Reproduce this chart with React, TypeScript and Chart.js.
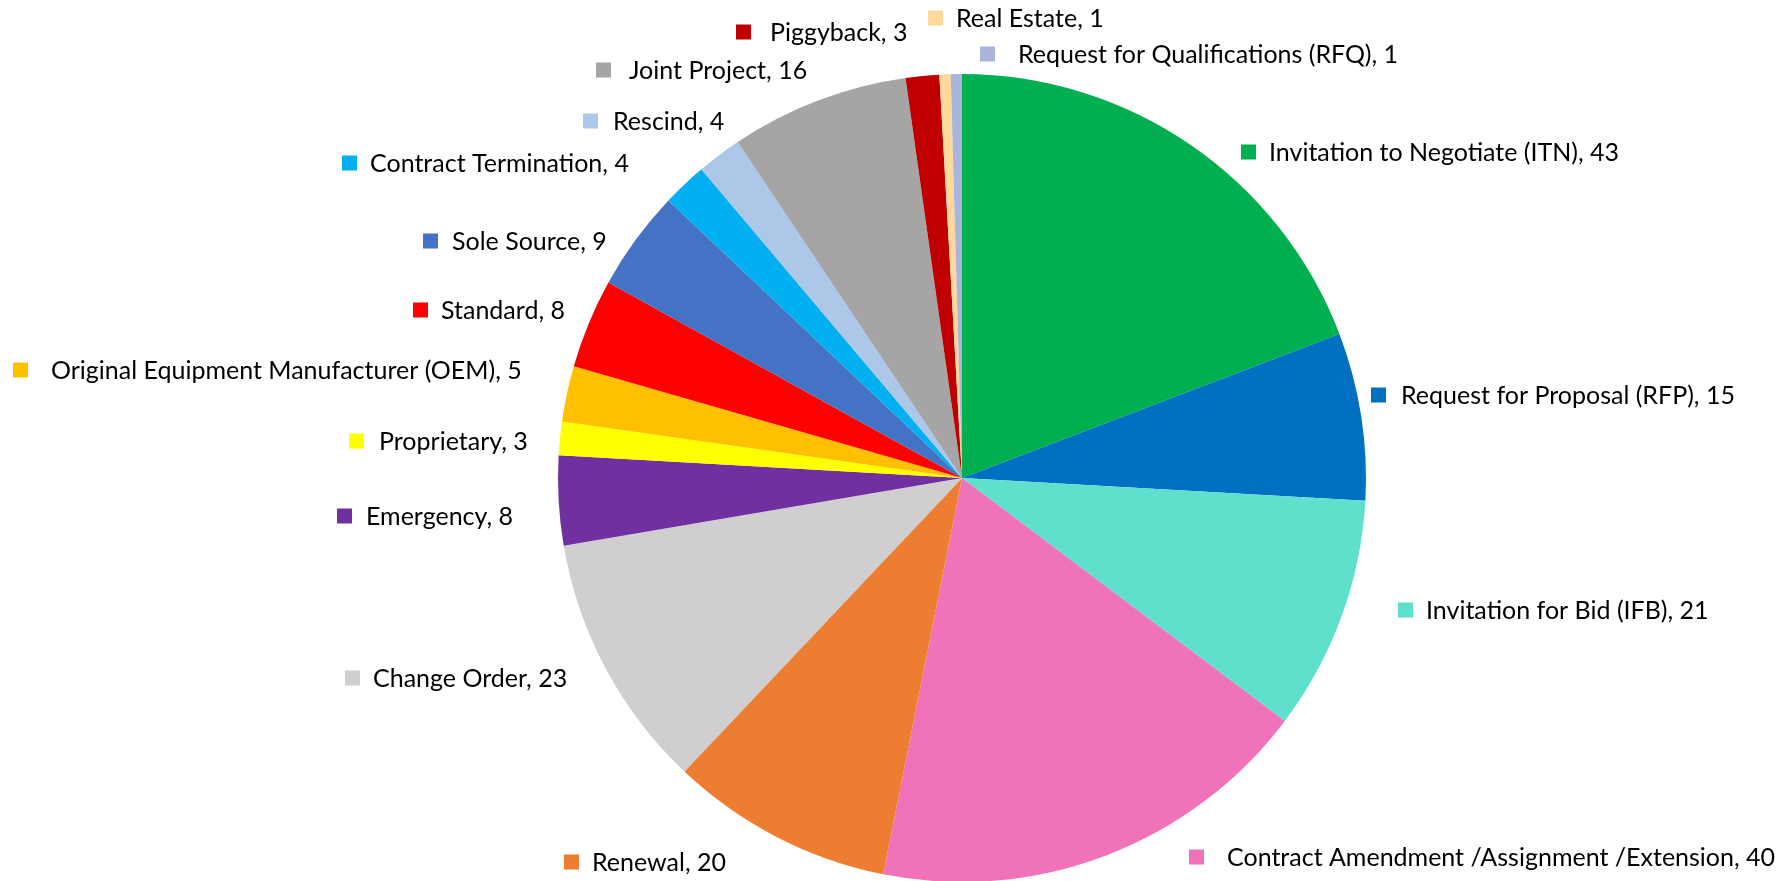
import React, { useEffect, useRef } from "react";
import { Chart, registerables } from "chart.js";

Chart.register(...registerables);

const categories = [
  "Invitation to Negotiate (ITN)",
  "Request for Proposal (RFP)",
  "Invitation for Bid (IFB)",
  "Contract Amendment /Assignment /Extension",
  "Renewal",
  "Change Order",
  "Emergency",
  "Proprietary",
  "Original Equipment Manufacturer (OEM)",
  "Standard",
  "Sole Source",
  "Contract Termination",
  "Rescind",
  "Joint Project",
  "Piggyback",
  "Real Estate",
  "Request for Qualifications (RFQ)",
];

const counts = [43, 15, 21, 40, 20, 23, 8, 3, 5, 8, 9, 4, 4, 16, 3, 1, 1];

const sliceColors = [
  "#00B050",
  "#0070C0",
  "#5FE0CD",
  "#F072B9",
  "#ED7D31",
  "#D0CECE",
  "#7030A0",
  "#FFFF00",
  "#FFC000",
  "#FF0000",
  "#4472C4",
  "#00B0F0",
  "#ADC7E8",
  "#A5A5A5",
  "#C00000",
  "#FFD89C",
  "#A9B6DC",
];

// label placement, offsets from the pie centre: [squareLeft, centreY, textLeft]
const labelOffsets: [number, number, number][] = [
  [279, -326, 307],
  [409, -83, 439],
  [436, 132, 464],
  [227, 379, 265],
  [-398, 384, -370],
  [-617, 200, -589],
  [-625, 38, -596],
  [-613, -37, -583],
  [-949, -108, -911],
  [-549, -168, -521],
  [-539, -237, -510],
  [-620, -315, -592],
  [-379, -357, -349],
  [-366, -408, -333],
  [-226, -446, -192],
  [-34, -460, -6],
  [18, -424, 56],
];

const labelPlugin = {
  id: "sliceLabels",
  afterDraw(chart: any) {
    const meta = chart.getDatasetMeta(0);
    const ctx = chart.ctx;
    ctx.save();
    ctx.font = "25px Lato";
    ctx.textBaseline = "middle";
    ctx.textAlign = "left";
    meta.data.forEach((arc: any, i: number) => {
      const cx = arc.x;
      const cy = arc.y;
      const [sx, y, tx] = labelOffsets[i];
      const sq = 15;
      ctx.fillStyle = sliceColors[i];
      ctx.fillRect(cx + sx, cy + y - sq / 2, sq, sq);
      ctx.fillStyle = "#000000";
      ctx.fillText(`${categories[i]}, ${counts[i]}`, cx + tx, cy + y + 1);
    });
    ctx.restore();
  },
};

export default function App() {
  const ref = useRef<HTMLCanvasElement>(null);
  useEffect(() => {
    if (!ref.current) return;
    const chart = new Chart(ref.current, {
      type: "pie",
      data: {
        labels: categories,
        datasets: [
          {
            data: counts,
            backgroundColor: sliceColors,
            borderWidth: 0,
            radius: 404,
          } as any,
        ],
      },
      options: {
        animation: false,
        responsive: false,
        maintainAspectRatio: false,
        layout: { padding: { top: 75, bottom: 0, left: 136, right: 0 } },
        plugins: {
          legend: { display: false },
          tooltip: { enabled: false },
        },
      },
      plugins: [labelPlugin],
    });
    return () => chart.destroy();
  }, []);
  return (
    <div
      style={{
        position: "fixed",
        left: 0,
        top: 0,
        width: 1788,
        height: 881,
        overflow: "hidden",
        background: "#ffffff",
      }}
    >
      <canvas ref={ref} width={1788} height={881} style={{ width: 1788, height: 881 }} />
    </div>
  );
}
